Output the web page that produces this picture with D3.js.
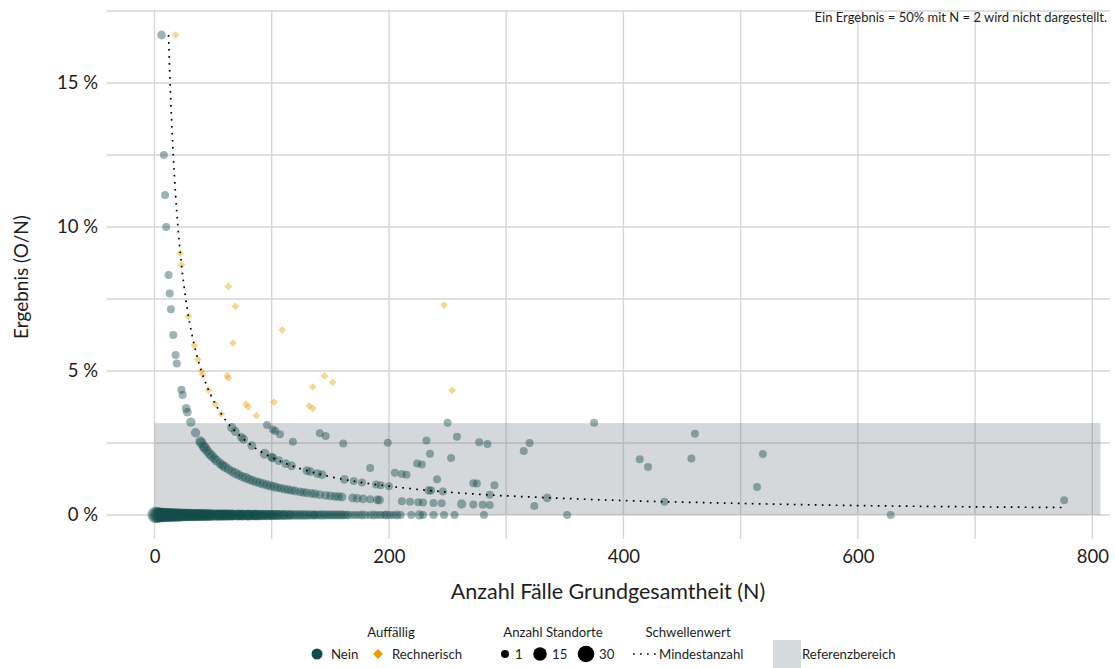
<!DOCTYPE html>
<html>
<head>
<meta charset="utf-8">
<script src="https://cdn.jsdelivr.net/npm/d3@7"></script>
<style>
  html, body { margin: 0; padding: 0; background: #fff; }
  svg { display: block; font-family: Lato, "Open Sans", sans-serif; }
</style>
</head>
<body>
<svg id="chart" width="1115" height="668"></svg>
<script>
// ---------------- DATA ----------------
// Auffällig = "Nein": O = 0, [N, Anzahl Standorte]
const neinZero = [[1,30],[2,25],[3,22],[4,20],[5,22],[6,20],[7,18],[8,20],[9,16],[10,18],[11,15],[12,16],[13,14],[14,15],[15,16],[16,13],[17,14],[18,13],[19,12],[20,14],[21,12],[22,13],[23,12],[24,12],[25,11],[26,11],[27,10],[28,11],[29,10],[30,11],[31,10],[32,10],[33,9],[34,10],[35,10],[36,9],[37,9],[38,8],[39,9],[40,9],[41,8],[42,9],[43,8],[44,8],[45,9],[46,8],[47,7],[48,8],[49,7],[50,8],[52,7],[53,7],[54,7],[55,7],[56,6],[57,7],[58,6],[59,6],[60,7],[61,6],[62,6],[63,6],[64,6],[65,5],[66,6],[67,6],[68,5],[70,5],[71,6],[72,5],[73,5],[74,5],[75,6],[76,5],[78,5],[79,5],[80,6],[81,5],[82,5],[84,5],[85,5],[86,5],[87,5],[88,5],[90,5],[91,4],[92,5],[94,4],[95,4],[96,5],[98,4],[99,4],[100,5],[102,4],[103,4],[105,4],[106,4],[108,4],[110,4],[111,3],[113,4],[115,3],[116,3],[118,3],[120,3],[122,3],[124,3],[126,3],[128,3],[130,3],[132,2],[134,3],[136,2],[137,2],[139,2],[141,2],[143,3],[145,2],[147,2],[149,2],[151,2],[153,2],[155,2],[157,2],[159,2],[161,2],[163,1],[165,2],[168,1],[171,1],[174,1],[177,2],[180,1],[184,1],[187,2],[190,1],[193,1],[196,1],[198,2],[201,1],[204,1],[207,2],[210,1],[219,1],[226,3],[229,1],[238,1],[247,1],[256,1],[281,1],[352,1],[628,1]];
// Auffällig = "Nein": O = 1, [N, Anzahl Standorte]
const neinOne = [[6,2],[8,1],[9,1],[10,1],[12,1],[13,1],[14,1],[16,1],[18,1],[19,1],[23,1],[24,1],[27,2],[28,2],[31,3],[35,3],[39,4],[40,5],[42,4],[43,5],[45,4],[47,4],[49,4],[51,3],[53,4],[56,3],[58,3],[60,4],[63,3],[66,3],[69,4],[72,3],[75,3],[78,4],[81,3],[84,3],[87,3],[90,3],[93,3],[96,3],[99,3],[102,3],[105,2],[108,2],[111,2],[114,2],[117,2],[120,2],[124,2],[127,2],[130,2],[134,2],[137,2],[141,2],[146,2],[150,2],[154,2],[157,2],[160,2],[169,2],[173,2],[178,2],[184,1],[190,2],[192,2],[211,1],[218,1],[225,1],[229,1],[238,1],[245,1],[262,3],[272,1],[280,1],[286,1],[324,1]];
// Auffällig = "Nein": O = 2, [N, Anzahl Standorte]
const neinTwo = [[66,3],[69,2],[74,2],[76,2],[83,2],[94,4],[100,2],[101,2],[106,2],[112,2],[117,2],[130,2],[133,2],[139,2],[143,2],[162,2],[170,1],[177,1],[189,1],[193,1],[200,1],[234,2],[236,1],[246,1],[286,1],[335,2],[435,1]];
// Auffällig = "Nein": O >= 3, [N, O, Anzahl Standorte]
const neinMore = [[96,3,1],[101,3,1],[103,3,1],[107,3,1],[118,3,1],[184,3,1],[205,3,1],[211,3,1],[215,3,1],[241,3,1],[272,3,1],[275,3,1],[290,3,1],[141,4,1],[146,4,1],[161,4,1],[224,4,1],[228,4,1],[776,4,1],[199,5,1],[235,5,1],[253,5,1],[514,5,1],[232,6,1],[258,7,1],[277,7,1],[284,7,1],[315,7,1],[421,7,1],[250,8,1],[320,8,1],[414,8,1],[458,9,1],[519,11,1],[375,12,1],[461,13,1]];
// Auffällig = "Rechnerisch": [N, O, Anzahl Standorte]
const rechnerisch = [[18,3,1],[22,2,1],[23,2,1],[29,2,1],[34,2,1],[37,2,1],[40,2,1],[41,2,1],[46,2,1],[52,2,1],[57,2,1],[62,3,1],[63,3,1],[63,5,1],[67,4,1],[69,5,1],[78,3,1],[80,3,1],[87,3,1],[102,4,1],[109,7,1],[132,5,1],[135,5,1],[135,6,1],[145,7,1],[152,7,1],[247,18,1],[254,11,1]];
// Schwellenwert Mindestanzahl (N, Ergebnis in %)
const thresholdN   = [12, 13, 14, 15, 16, 18, 20, 22, 25, 28, 32, 36, 40, 45, 50, 56, 63, 70, 80, 90, 100, 115, 130, 150, 175, 200, 240, 280, 330, 400, 480, 580, 680, 776];
const thresholdPct = [16.67, 15.38, 14.29, 13.33, 12.5, 11.11, 10, 9.09, 8, 7.14, 6.25, 5.56, 5, 4.44, 4, 3.57, 3.17, 2.86, 2.5, 2.22, 2, 1.74, 1.54, 1.33, 1.14, 1, 0.83, 0.71, 0.61, 0.5, 0.42, 0.34, 0.29, 0.26];
// Referenzbereich
const refRangePct = [0, 3.19];
const refRangeN = [0, 807];
// ticks
const xTicks = [0, 200, 400, 600, 800];
const xGrid = [0, 100, 200, 300, 400, 500, 600, 700, 800];
const yTicks = [0, 5, 10, 15];
const yGrid = [0, 2.5, 5, 7.5, 10, 12.5, 15, 17.5];
const sizeLegend = [1, 15, 30];

// ---------------- CHART ----------------
const TEAL = "#124c49", ORANGE = "#e69f00", TXT = "#1e1e1e";
const svg = d3.select("#chart");
const panel = {left: 107, right: 1110, top: 11, bottom: 539};

const x = d3.scaleLinear().domain([0, 800]).range([154.5, 1092.3]);
const y = d3.scaleLinear().domain([0, 17.5]).range([515, 11]);
const r = d3.scaleSqrt().domain([1, 30]).range([4, 8.3]);

// grid
const grid = svg.append("g");
grid.selectAll(".gx").data(xGrid).join("line")
  .attr("x1", d => x(d)).attr("x2", d => x(d))
  .attr("y1", panel.top - 1).attr("y2", panel.bottom)
  .attr("stroke", "#d6d6d6").attr("stroke-width", 1.4);
grid.selectAll(".gy").data(yGrid).join("line")
  .attr("x1", panel.left).attr("x2", panel.right)
  .attr("y1", d => y(d)).attr("y2", d => y(d))
  .attr("stroke", "#d6d6d6").attr("stroke-width", 1.4);

// reference band
svg.append("rect")
  .attr("x", x(refRangeN[0])).attr("width", x(refRangeN[1]) - x(refRangeN[0]))
  .attr("y", y(refRangePct[1])).attr("height", y(refRangePct[0]) - y(refRangePct[1]))
  .attr("fill", "rgb(100,115,125)").attr("fill-opacity", 0.28);

// points
const neinPts = [].concat(
  neinZero.map(d => ({N: d[0], O: 0, s: d[1]})),
  neinOne.map(d => ({N: d[0], O: 1, s: d[1]})),
  neinTwo.map(d => ({N: d[0], O: 2, s: d[1]})),
  neinMore.map(d => ({N: d[0], O: d[1], s: d[2]}))
);
svg.append("g").selectAll("circle").data(neinPts).join("circle")
  .attr("cx", d => x(d.N)).attr("cy", d => y(100 * d.O / d.N))
  .attr("r", d => r(d.s))
  .attr("fill", TEAL).attr("fill-opacity", 0.42);

const diamond = d3.symbol(d3.symbolSquare, 30);
svg.append("g").selectAll("path").data(rechnerisch.map(d => ({N: d[0], O: d[1], s: d[2]}))).join("path")
  .attr("d", diamond)
  .attr("transform", d => `translate(${x(d.N)},${y(100 * d.O / d.N)}) rotate(45)`)
  .attr("fill", ORANGE).attr("fill-opacity", 0.42);

// threshold line
const thr = thresholdN.map((n, i) => [n, thresholdPct[i]]);
svg.append("path")
  .datum(thr)
  .attr("d", d3.line().x(d => x(d[0])).y(d => y(d[1])).curve(d3.curveMonotoneX))
  .attr("fill", "none").attr("stroke", "#000").attr("stroke-width", 1.7)
  .attr("stroke-dasharray", "1.7,5.3");

// axes
const yAxis = svg.append("g").attr("transform", `translate(${panel.left},0)`)
  .call(d3.axisLeft(y).tickValues(yTicks).tickFormat(d => d + " %").tickSize(0).tickPadding(9));
const xAxis = svg.append("g").attr("transform", `translate(0,${panel.bottom})`)
  .call(d3.axisBottom(x).tickValues(xTicks).tickSize(0).tickPadding(11));
[yAxis, xAxis].forEach(g => {
  g.select(".domain").remove();
  g.selectAll("text").attr("font-size", 18.5).attr("fill", TXT).attr("font-family", "Lato, sans-serif");
});

svg.append("text").attr("x", 608).attr("y", 599).attr("text-anchor", "middle")
  .attr("font-size", 21.5).attr("fill", TXT).text("Anzahl Fälle Grundgesamtheit (N)");
svg.append("text").attr("transform", "translate(28,277) rotate(-90)").attr("text-anchor", "middle")
  .attr("font-size", 19).attr("fill", TXT).text("Ergebnis (O/N)");
svg.append("text").attr("x", 1107).attr("y", 22).attr("text-anchor", "end")
  .attr("font-size", 13).attr("fill", TXT).text("Ein Ergebnis = 50% mit N = 2 wird nicht dargestellt.");

// legend
const lg = svg.append("g").attr("font-size", 13.2).attr("fill", TXT);
const titleY = 637, itemY = 654, textY = 658.5;
lg.append("text").attr("x", 391).attr("y", titleY).attr("text-anchor", "middle").text("Auffällig");
lg.append("circle").attr("cx", 317).attr("cy", itemY).attr("r", 5.5).attr("fill", TEAL);
lg.append("text").attr("x", 331).attr("y", textY).text("Nein");
lg.append("path").attr("d", d3.symbol(d3.symbolSquare, 50)).attr("transform", `translate(378,${itemY}) rotate(45)`).attr("fill", ORANGE);
lg.append("text").attr("x", 392).attr("y", textY).text("Rechnerisch");

lg.append("text").attr("x", 553).attr("y", titleY).attr("text-anchor", "middle").text("Anzahl Standorte");
const sizeX = [505, 540, 586], sizeTX = [515, 552, 599];
sizeLegend.forEach((s, i) => {
  lg.append("circle").attr("cx", sizeX[i]).attr("cy", itemY).attr("r", r(s)).attr("fill", "#000");
  lg.append("text").attr("x", sizeTX[i]).attr("y", textY).text(s);
});

lg.append("text").attr("x", 688).attr("y", titleY).attr("text-anchor", "middle").text("Schwellenwert");
lg.append("line").attr("x1", 633).attr("x2", 656).attr("y1", itemY).attr("y2", itemY)
  .attr("stroke", "#000").attr("stroke-width", 1.7).attr("stroke-dasharray", "1.7,5.3");
lg.append("text").attr("x", 659).attr("y", textY).text("Mindestanzahl");

lg.append("rect").attr("x", 773).attr("y", 640).attr("width", 28).attr("height", 28).attr("fill", "#d4d9dc");
lg.append("text").attr("x", 802).attr("y", textY).text("Referenzbereich");
</script>
</body>
</html>
